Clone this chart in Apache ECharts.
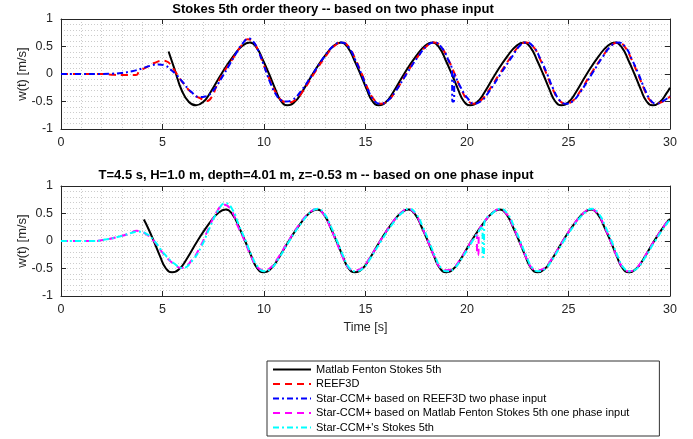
<!DOCTYPE html>
<html>
<head>
<meta charset="utf-8">
<script src="https://cdn.jsdelivr.net/npm/echarts@6/dist/echarts.min.js"></script>
<style>
  html, body { margin: 0; padding: 0; background: #fff; }
  #chart { width: 693px; height: 439px; }
</style>
</head>
<body>
<div id="chart"></div>
<script>
// Vertical velocity w(t) time series, [time s, w m/s]

// --- upper panel: two phase input ---
const fentonTwoPhase = [
  [5.3,0.41],[5.6,0.08],[5.95,-0.3],[6.3,-0.51],[6.65,-0.57],
  [7.0,-0.51],[7.35,-0.34],[7.9,0],[8.5,0.33],[8.95,0.52],[9.3,0.575],[9.65,0.47],[9.95,0.25],[10.25,0],[10.55,-0.27],[10.85,-0.5],[11.15,-0.57],
  [11.5,-0.51],[11.85,-0.34],[12.4,0],[13.0,0.33],[13.45,0.52],[13.8,0.575],[14.15,0.47],[14.45,0.25],[14.75,0],[15.05,-0.27],[15.35,-0.5],[15.65,-0.57],
  [16.0,-0.51],[16.35,-0.34],[16.9,0],[17.5,0.33],[17.95,0.52],[18.3,0.575],[18.65,0.47],[18.95,0.25],[19.25,0],[19.55,-0.27],[19.85,-0.5],[20.15,-0.57],
  [20.5,-0.51],[20.85,-0.34],[21.4,0],[22.0,0.33],[22.45,0.52],[22.8,0.575],[23.15,0.47],[23.45,0.25],[23.75,0],[24.05,-0.27],[24.35,-0.5],[24.65,-0.57],
  [25.0,-0.51],[25.35,-0.34],[25.9,0],[26.5,0.33],[26.95,0.52],[27.3,0.575],[27.65,0.47],[27.95,0.25],[28.25,0],[28.55,-0.27],[28.85,-0.5],[29.15,-0.57],
  [29.5,-0.51],[29.85,-0.34],[30.0,-0.25]
];

const reef3d = [
  [0,0],[1,0],[2,0],[2.4,-0.01],[3.0,-0.02],[3.6,-0.02],[3.75,-0.01],[3.85,0.05],[4.2,0.12],[4.6,0.2],[5.0,0.24],[5.2,0.23],
  [5.4,0.17],[5.65,0.03],[6.05,-0.18],[6.5,-0.36],[6.9,-0.45],[7.2,-0.49],[7.45,-0.4],[7.7,-0.18],[8.1,0.08],[8.5,0.3],
  [8.85,0.5],[9.2,0.63],[9.35,0.62],[9.65,0.48],[9.95,0.2],[10.3,-0.12],[10.65,-0.38],[10.95,-0.5],[11.2,-0.52],
  [11.55,-0.47],[11.9,-0.32],[12.45,0],[13.05,0.33],[13.5,0.52],[13.85,0.575],[14.2,0.48],[14.5,0.27],[14.82,0],[15.12,-0.27],[15.45,-0.48],[15.75,-0.54],
  [16.1,-0.49],[16.45,-0.33],[17.0,0],[17.6,0.33],[18.05,0.52],[18.4,0.575],[18.75,0.48],[19.05,0.28],[19.35,0.04],[19.7,-0.27],[20.0,-0.46],[20.3,-0.54],
  [20.65,-0.49],[21.0,-0.34],[21.6,0],[22.2,0.33],[22.6,0.52],[22.9,0.575],[23.3,0.48],[23.6,0.27],[23.92,0],[24.22,-0.27],[24.55,-0.48],[24.85,-0.54],
  [25.2,-0.49],[25.55,-0.33],[26.1,0],[26.7,0.33],[27.1,0.52],[27.45,0.575],[27.8,0.48],[28.1,0.27],[28.42,0],[28.72,-0.27],[29.0,-0.47],[29.3,-0.54],
  [29.65,-0.5],[30.0,-0.41]
];

const starReefInput = [
  [0,0],[1,0],[2,0],[2.5,0.005],[3.0,0.02],[3.5,0.05],[4.0,0.1],[4.4,0.15],[4.8,0.175],[5.1,0.16],[5.4,0.08],[5.65,0],
  [6.0,-0.15],[6.4,-0.32],[6.85,-0.42],[7.1,-0.41],[7.5,-0.3],[7.9,-0.08],[8.3,0.17],[8.7,0.42],[9.0,0.58],[9.25,0.645],
  [9.45,0.6],[9.7,0.44],[10.0,0.15],[10.3,-0.15],[10.6,-0.38],[10.85,-0.48],[11.05,-0.5],
  [11.4,-0.47],[11.8,-0.32],[12.4,0],[13.0,0.33],[13.45,0.52],[13.82,0.575],[14.18,0.48],[14.48,0.27],[14.8,0],[15.1,-0.27],[15.42,-0.48],[15.72,-0.54],
  [16.08,-0.49],[16.45,-0.33],[17.02,0],[17.62,0.33],[18.05,0.52],[18.4,0.575],[18.75,0.48],[19.05,0.28],[19.26,0.05],
  [19.28,-0.5],[19.36,-0.5],[19.38,0],[19.7,-0.25],[20.05,-0.45],[20.35,-0.54],
  [20.7,-0.49],[21.05,-0.34],[21.65,0],[22.25,0.33],[22.62,0.52],[22.92,0.575],[23.3,0.48],[23.62,0.27],[23.95,0],[24.25,-0.27],[24.57,-0.48],[24.88,-0.54],
  [25.22,-0.49],[25.58,-0.33],[26.15,0],[26.72,0.33],[27.12,0.52],[27.45,0.575],[27.82,0.48],[28.12,0.27],[28.45,0],[28.75,-0.27],[29.03,-0.47],[29.32,-0.54],
  [29.67,-0.49],[30.0,-0.4]
];

// --- lower panel: one phase input ---
const fentonOnePhase = [
  [4.08,0.39],[4.27,0.25],[4.57,0],[4.87,-0.27],[5.17,-0.5],[5.47,-0.57],
  [5.82,-0.51],[6.17,-0.34],[6.72,0],[7.32,0.33],[7.77,0.52],[8.12,0.575],[8.47,0.47],[8.77,0.25],[9.07,0],[9.37,-0.27],[9.67,-0.5],[9.97,-0.57],
  [10.32,-0.51],[10.67,-0.34],[11.22,0],[11.82,0.33],[12.27,0.52],[12.62,0.575],[12.97,0.47],[13.27,0.25],[13.57,0],[13.87,-0.27],[14.17,-0.5],[14.47,-0.57],
  [14.82,-0.51],[15.17,-0.34],[15.72,0],[16.32,0.33],[16.77,0.52],[17.12,0.575],[17.47,0.47],[17.77,0.25],[18.07,0],[18.37,-0.27],[18.67,-0.5],[18.97,-0.57],
  [19.32,-0.51],[19.67,-0.34],[20.22,0],[20.82,0.33],[21.27,0.52],[21.62,0.575],[21.97,0.47],[22.27,0.25],[22.57,0],[22.87,-0.27],[23.17,-0.5],[23.47,-0.57],
  [23.82,-0.51],[24.17,-0.34],[24.72,0],[25.32,0.33],[25.77,0.52],[26.12,0.575],[26.47,0.47],[26.77,0.25],[27.07,0],[27.37,-0.27],[27.67,-0.5],[27.97,-0.57],
  [28.32,-0.51],[28.67,-0.34],[29.22,0],[29.82,0.33],[30.0,0.4]
];

const starFentonInput = [
  [0,0],[1,0],[1.6,0],[2.25,0.03],[3.07,0.1],[3.45,0.15],[3.73,0.185],[3.95,0.17],[4.22,0.12],[4.55,0.01],
  [5.04,-0.23],[5.53,-0.41],[5.95,-0.49],[6.44,-0.35],[6.85,-0.11],[7.26,0.22],[7.67,0.53],[8.05,0.66],
  [8.4,0.55],[8.7,0.28],[9.05,0],[9.35,-0.27],[9.65,-0.47],[9.95,-0.53],
  [10.3,-0.49],[10.65,-0.33],[11.2,0],[11.8,0.33],[12.25,0.52],[12.6,0.58],[12.95,0.48],[13.25,0.26],[13.55,0],[13.85,-0.27],[14.15,-0.48],[14.47,-0.53],
  [14.82,-0.49],[15.17,-0.33],[15.72,0],[16.32,0.33],[16.77,0.52],[17.12,0.58],[17.47,0.48],[17.77,0.26],[18.07,0],[18.37,-0.27],[18.67,-0.48],[18.97,-0.53],
  [19.32,-0.49],[19.67,-0.33],[20.22,0],[20.48,0.12],[20.5,-0.26],[20.56,-0.26],[20.58,0.16],[20.82,0.33],
  [21.27,0.52],[21.62,0.58],[21.97,0.48],[22.27,0.26],[22.57,0],[22.87,-0.27],[23.17,-0.48],[23.47,-0.53],
  [23.82,-0.49],[24.17,-0.33],[24.72,0],[25.32,0.33],[25.77,0.52],[26.12,0.58],[26.47,0.48],[26.77,0.26],[27.07,0],[27.37,-0.27],[27.67,-0.48],[27.97,-0.55],
  [28.32,-0.5],[28.67,-0.33],[29.22,0],[29.82,0.33],[30.0,0.39]
];

const starStokes5 = [
  [0,0],[1,0],[1.6,0],[2.25,0.03],[3.07,0.1],[3.5,0.15],[3.8,0.17],[4.25,0.12],[4.6,0],
  [5.08,-0.23],[5.58,-0.41],[6.0,-0.49],[6.48,-0.35],[6.9,-0.11],[7.3,0.22],[7.72,0.54],[8.1,0.69],
  [8.45,0.57],[8.75,0.3],[9.1,0],[9.4,-0.27],[9.7,-0.47],[10.0,-0.55],
  [10.35,-0.5],[10.7,-0.33],[11.25,0],[11.85,0.33],[12.3,0.52],[12.65,0.585],[13.0,0.48],[13.3,0.26],[13.6,0],[13.9,-0.27],[14.2,-0.49],[14.52,-0.55],
  [14.87,-0.5],[15.22,-0.33],[15.77,0],[16.37,0.33],[16.82,0.52],[17.17,0.585],[17.52,0.48],[17.82,0.26],[18.12,0],[18.42,-0.27],[18.72,-0.49],[19.02,-0.55],
  [19.37,-0.5],[19.72,-0.33],[20.27,0],[20.55,0.16],[20.76,0.27],[20.78,-0.29],[20.83,-0.29],[20.85,0.31],
  [21.3,0.52],[21.67,0.585],[22.02,0.48],[22.32,0.26],[22.62,0],[22.92,-0.27],[23.22,-0.49],[23.52,-0.55],
  [23.87,-0.5],[24.22,-0.33],[24.77,0],[25.37,0.33],[25.82,0.52],[26.17,0.585],[26.52,0.48],[26.82,0.26],[27.12,0],[27.42,-0.27],[27.72,-0.49],[28.02,-0.55],
  [28.37,-0.5],[28.72,-0.33],[29.27,0],[29.87,0.33],[30.0,0.38]
];

const seriesNames = [
  'Matlab Fenton Stokes 5th',
  'REEF3D',
  'Star-CCM+ based on REEF3D two phase input',
  'Star-CCM+ based on Matlab Fenton Stokes 5th one phase input',
  "Star-CCM+'s Stokes 5th"
];
const panelTitles = [
  'Stokes 5th order theory -- based on two phase input',
  'T=4.5 s, H=1.0 m, depth=4.01 m, z=-0.53 m -- based on one phase input'
];
const yName = 'w(t) [m/s]';
const xName = 'Time [s]';

const FONT = '"Liberation Sans", Arial, Helvetica, sans-serif';
const AX = '#262626';
const GRIDC = '#cccccc';

const chart = echarts.init(document.getElementById('chart'), null, { renderer: 'canvas' });

const grids = [
  { left: 61, top: 19, width: 609, height: 110 },
  { left: 61, top: 186, width: 609, height: 110 }
];

function xAxisMain(gi) {
  return {
    type: 'value', gridIndex: gi, position: 'bottom', min: 0, max: 30, interval: 5,
    axisLine: { show: true, onZero: false, lineStyle: { color: AX, width: 1 } },
    axisTick: { show: true, inside: true, length: 5, lineStyle: { color: AX } },
    axisLabel: { show: true, margin: 7, color: AX, fontSize: 12.5, fontFamily: FONT },
    splitLine: { show: true, lineStyle: { color: GRIDC, type: [1, 2], width: 1 } },
    minorTick: { show: false, splitNumber: 5 },
    minorSplitLine: { show: true, lineStyle: { color: GRIDC, type: [1, 2], width: 1 } },
    name: gi === 1 ? xName : '', nameLocation: 'middle', nameGap: 25,
    nameTextStyle: { color: AX, fontSize: 12.5, fontFamily: FONT }
  };
}
function xAxisTop(gi) {
  return {
    type: 'value', gridIndex: gi, position: 'top', min: 0, max: 30, interval: 5,
    axisLine: { show: true, onZero: false, lineStyle: { color: AX, width: 1 } },
    axisTick: { show: true, inside: true, length: 5, lineStyle: { color: AX } },
    axisLabel: { show: false }, splitLine: { show: false }
  };
}
function yAxisMain(gi) {
  return {
    type: 'value', gridIndex: gi, position: 'left', min: -1, max: 1, interval: 0.5,
    axisLine: { show: true, onZero: false, lineStyle: { color: AX, width: 1 } },
    axisTick: { show: true, inside: true, length: 5, lineStyle: { color: AX } },
    axisLabel: { show: true, margin: 8, color: AX, fontSize: 12.5, fontFamily: FONT },
    splitLine: { show: true, lineStyle: { color: GRIDC, type: [1, 2], width: 1 } },
    minorTick: { show: false, splitNumber: 5 },
    minorSplitLine: { show: true, lineStyle: { color: GRIDC, type: [1, 2], width: 1 } },
    name: yName, nameLocation: 'middle', nameGap: 32, nameRotate: 90,
    nameMoveOverlap: false,
    nameTextStyle: { color: AX, fontSize: 13, fontFamily: FONT }
  };
}
function yAxisRight(gi) {
  return {
    type: 'value', gridIndex: gi, position: 'right', min: -1, max: 1, interval: 0.5,
    axisLine: { show: true, onZero: false, lineStyle: { color: AX, width: 1 } },
    axisTick: { show: true, inside: true, length: 5, lineStyle: { color: AX } },
    axisLabel: { show: false }, splitLine: { show: false }
  };
}

function lineSeries(name, data, gi, color, dash) {
  return {
    type: 'line', name: name, data: data, xAxisIndex: gi * 2, yAxisIndex: gi * 2,
    symbol: 'none', smooth: 0.5,
    lineStyle: { color: color, width: 2, type: dash },
    itemStyle: { color: color },
    z: 3
  };
}

chart.setOption({
  animation: false,
  backgroundColor: '#fff',
  grid: grids,
  xAxis: [xAxisMain(0), xAxisTop(0), xAxisMain(1), xAxisTop(1)],
  yAxis: [yAxisMain(0), yAxisRight(0), yAxisMain(1), yAxisRight(1)],
  legend: {
    data: seriesNames,
    orient: 'vertical',
    left: 267, top: 361,
    padding: [3, 30, 3, 5],
    itemWidth: 38, itemHeight: 11, itemGap: 3.5,
    itemStyle: { opacity: 0 },
    backgroundColor: '#fff',
    borderColor: '#333', borderWidth: 1, borderRadius: 0,
    textStyle: { color: '#000', fontSize: 11, fontFamily: FONT },
    selectedMode: false
  },
  graphic: [
    { type: 'text', x: 333, y: 9,
      style: { text: panelTitles[0], textAlign: 'center', textVerticalAlign: 'middle',
               font: 'bold 13px ' + FONT, fill: '#000' } },
    { type: 'text', x: 316, y: 175,
      style: { text: panelTitles[1], textAlign: 'center', textVerticalAlign: 'middle',
               font: 'bold 13px ' + FONT, fill: '#000' } }
  ],
  series: [
    lineSeries(seriesNames[0], fentonTwoPhase, 0, '#000000', 'solid'),
    lineSeries(seriesNames[1], reef3d, 0, '#ff0000', [7, 5]),
    lineSeries(seriesNames[2], starReefInput, 0, '#0000ff', [6, 3, 2, 3]),
    lineSeries(seriesNames[0], fentonOnePhase, 1, '#000000', 'solid'),
    lineSeries(seriesNames[3], starFentonInput, 1, '#ff00ff', [7, 5]),
    lineSeries(seriesNames[4], starStokes5, 1, '#00ffff', [6, 3, 2, 3])
  ]
});
</script>
</body>
</html>
